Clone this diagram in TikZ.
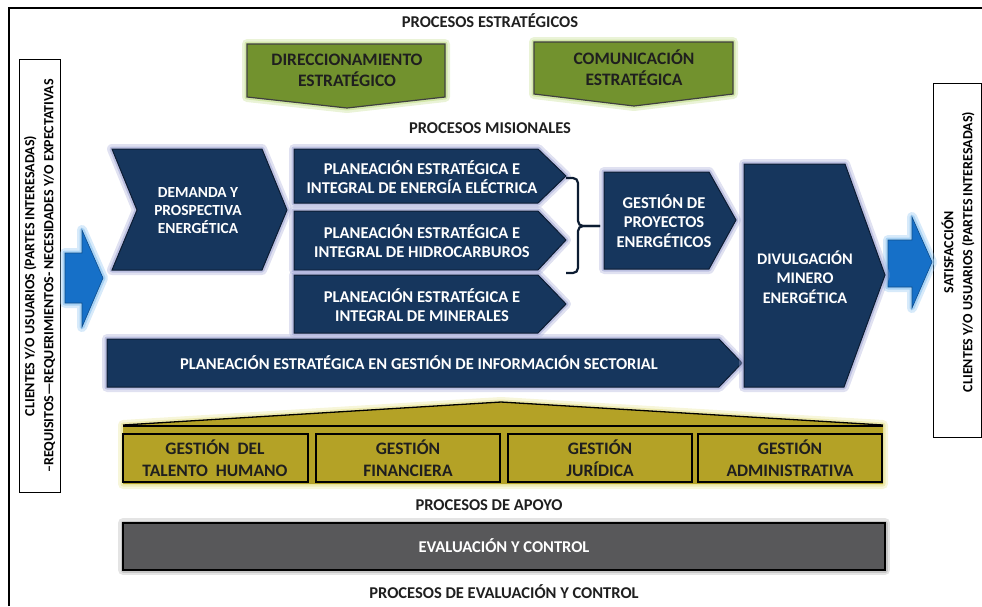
\documentclass[tikz,border=0pt]{standalone}
\usepackage{fontspec}
\setmainfont{Carlito}
\definecolor{navy}{RGB}{22,54,93}
\definecolor{navyedge}{RGB}{12,28,50}
\definecolor{navyglow}{RGB}{165,170,215}
\definecolor{olivegreen}{RGB}{114,146,46}
\definecolor{greenglow}{RGB}{195,222,140}
\definecolor{gold}{RGB}{180,162,38}
\definecolor{goldglow}{RGB}{232,228,150}
\definecolor{greybox}{RGB}{88,88,90}
\definecolor{arrowblue}{RGB}{22,112,200}
\definecolor{blueglow}{RGB}{140,195,240}
\tikzset{
  glowing/.style={preaction={draw=#1, draw opacity=.35, line width=10pt, line join=round},
                  preaction={draw=#1, draw opacity=.6, line width=5pt, line join=round}},
  navyshape/.style={fill=navy, draw=navyedge, line width=1pt, line join=miter, glowing=navyglow},
  greenshape/.style={fill=olivegreen, draw=black!75, line width=1.2pt, glowing=greenglow},
  goldbox/.style={fill=gold, draw=black, line width=1.8pt},
  bluearrow/.style={fill=arrowblue, draw=arrowblue!70!black, line width=.6pt, glowing=blueglow},
  wtext/.style={text=white, font=\bfseries\fontsize{16.5}{19.5}\selectfont, align=center, inner sep=0pt},
  dtext/.style={text=black!88, font=\bfseries\fontsize{17.5}{22}\selectfont, align=center, inner sep=0pt},
  title/.style={text=black!88, font=\bfseries\fontsize{16.5}{19}\selectfont, inner sep=0pt},
  sidetext/.style={text=black, font=\bfseries\fontsize{14}{19}\selectfont, align=center, inner sep=0pt, rotate=90},
}
\begin{document}
\begin{tikzpicture}[x=1pt, y=-1pt]
\useasboundingbox (0,0) rectangle (982,606);
% outer frame
\draw[line width=1.3pt] (9,606) -- (9,8) -- (982,8);

% titles
\node[title] (tE) at (490,21) {PROCESOS ESTRATÉGICOS};
\node[title] (tM) at (490,128) {PROCESOS MISIONALES};
\node[title] (tA) at (489,505) {PROCESOS DE APOYO};
\node[title] (tC) at (504,592) {PROCESOS DE EVALUACIÓN Y CONTROL};

% side boxes
\draw[line width=1pt, fill=white] (19,59) rectangle (60,492);
\node[sidetext] (cli) at (39.5,276) {CLIENTES Y/O USUARIOS (PARTES INTERESADAS)\\–REQUISITOS—REQUERIMIENTOS- NECESIDADES Y/O EXPECTATIVAS};
\draw[line width=1pt, fill=white] (933,83) rectangle (981,437);
\node[sidetext] (sat) at (958,252) {SATISFACCIÓN\\CLIENTES Y/O USUARIOS (PARTES INTERESADAS)};

% blue arrows
\path[bluearrow] (65,253) -- (82,253) -- (82,230) -- (103,278) -- (82,327) -- (82,303) -- (65,303) -- cycle;
\path[bluearrow] (888,240) -- (912,240) -- (912,217) -- (932,262) -- (912,308) -- (912,287) -- (888,287) -- cycle;

% strategic
\path[greenshape] (247,44) -- (445,44) -- (445,97) -- (347,108) -- (247,97) -- cycle;
\node[dtext, font=\bfseries\fontsize{17.5}{21}\selectfont] (dir) at (347,70) {DIRECCIONAMIENTO\\ESTRATÉGICO};
\path[greenshape] (534,42) -- (733,42) -- (733,94) -- (634,106) -- (534,94) -- cycle;
\node[dtext, font=\bfseries\fontsize{17.5}{21}\selectfont] (com) at (634,68) {COMUNICACIÓN\\ESTRATÉGICA};

% missional
\path[navyshape] (112,149) -- (262,149) -- (287,210) -- (262,270) -- (112,270) -- (137,210) -- cycle;
\node[wtext, font=\bfseries\fontsize{15.4}{18}\selectfont] (dem) at (198,211) {DEMANDA Y\\PROSPECTIVA\\ENERGÉTICA};

\path[navyshape] (294,149) -- (538,149) -- (566,176) -- (538,203) -- (294,203) -- cycle;
\coordinate (p1tip) at (566,178);
\node[wtext] (pe1) at (422,177) {PLANEACIÓN ESTRATÉGICA E\\INTEGRAL DE ENERGÍA ELÉCTRICA};
\path[navyshape] (294,211) -- (538,211) -- (566,240) -- (538,270) -- (294,270) -- cycle;
\node[wtext] (pe2) at (422,241) {PLANEACIÓN ESTRATÉGICA E\\INTEGRAL DE HIDROCARBUROS};
\coordinate (p2end) at (566,273);
\path[navyshape] (294,275) -- (538,275) -- (566,304) -- (538,333) -- (294,333) -- cycle;
\node[wtext] (pe3) at (422,305) {PLANEACIÓN ESTRATÉGICA E\\INTEGRAL DE MINERALES};

\path[navyshape] (604,172) -- (709,172) -- (736,220) -- (709,269) -- (604,269) -- cycle;
\node[wtext] (gp) at (664,221) {GESTIÓN DE\\PROYECTOS\\ENERGÉTICOS};
\coordinate (gpin) at (600,226);

% brace
\draw[navyedge, line width=2.2pt, rounded corners=5pt] (p1tip) -- (578,178) -- (578,226) -- (gpin);
\draw[navyedge, line width=2.2pt, rounded corners=5pt] (p2end) -- (578,273) -- (578,226) -- (gpin);

\path[navyshape] (107,339) -- (719,339) -- (742,363) -- (719,387) -- (107,387) -- cycle;
\node[wtext] (sec) at (419,363) {PLANEACIÓN ESTRATÉGICA EN GESTIÓN DE INFORMACIÓN SECTORIAL};

\path[navyshape] (744,164) -- (845,164) -- (885,275) -- (844,387) -- (744,387) -- cycle;
\node[wtext, font=\bfseries\fontsize{16.2}{19.5}\selectfont] (div) at (805,277) {DIVULGACIÓN\\MINERO\\ENERGÉTICA};

% support
\path[fill=gold, glowing=goldglow] (123,425) -- (501,402) -- (883,425) -- (883,484) -- (123,484) -- cycle;
\draw[line width=1.3pt, line join=round] (123,425) -- (501,402) -- (883,425);
\draw[line width=1.5pt] (123,426) -- (883,426);
\draw[goldbox] (123,434) rectangle (308,482);
\node[dtext] (th) at (215,458) {GESTIÓN\ \ DEL\\TALENTO\ \ HUMANO};
\draw[goldbox] (316,434) rectangle (500,482);
\node[dtext] (fin) at (408,458) {GESTIÓN\\FINANCIERA};
\draw[goldbox] (508,434) rectangle (692,482);
\node[dtext] (jur) at (600,458) {GESTIÓN\\JURÍDICA};
\draw[goldbox] (698,434) rectangle (882,482);
\node[dtext] (adm) at (790,458) {GESTIÓN\\ADMINISTRATIVA};

% evaluation
\path[fill=greybox, draw=black, line width=2pt, glowing=black!30] (123,523) rectangle (885,570);
\node[wtext, font=\bfseries\fontsize{16.5}{19}\selectfont] (ev) at (504,546) {EVALUACIÓN Y CONTROL};
\end{tikzpicture}
\end{document}
